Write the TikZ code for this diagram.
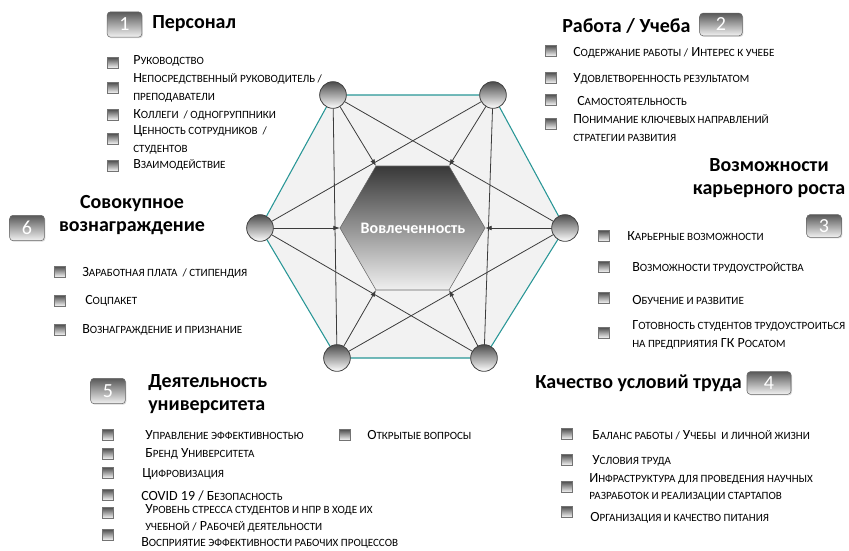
\documentclass[tikz,border=0pt]{standalone}
\usepackage{fontspec}
\setmainfont{Carlito}
\usetikzlibrary{arrows.meta,shadows}

\definecolor{hexedge}{RGB}{40,150,150}
\definecolor{linkgray}{RGB}{60,60,60}

% small caps by hand
\newcommand\sm[1]{{\fontsize{8.3}{13}\selectfont\MakeUppercase{#1}}}

\tikzset{
  joint/.style={circle,draw=black!75,line width=0.6pt,minimum size=20pt,inner sep=0pt,
    top color=black!70,bottom color=white},
  numbox/.style={draw=black!60,rounded corners=2.5pt,top color=black!65,bottom color=black!5,
    text=white,minimum width=26pt,minimum height=19pt,inner sep=0pt,
    font=\fontsize{15}{15}\selectfont,
    drop shadow={opacity=0.3,shadow xshift=0.8pt,shadow yshift=-0.8pt}},
  bullet/.style={draw=black!55,top color=black!70,bottom color=white,minimum size=8.5pt,
    inner sep=0pt,drop shadow={opacity=0.25,shadow xshift=0.6pt,shadow yshift=-0.6pt}},
  heading/.style={font=\bfseries\fontsize{15}{17.25}\selectfont,inner sep=0pt},
  entry/.style={anchor=west,align=left,inner sep=0pt,font=\fontsize{10.5}{13}\selectfont},
  link/.style={draw=linkgray,line width=0.6pt},
}

\begin{document}
\begin{tikzpicture}[x=0.75pt,y=-0.75pt]
  \useasboundingbox (0,0) rectangle (849,550);
  % outer corners
  \coordinate (c1) at (333,95);
  \coordinate (c2) at (493,95);
  \coordinate (c3) at (565,228);
  \coordinate (c4) at (484,358);
  \coordinate (c5) at (337,358);
  \coordinate (c6) at (260,228);
  % inner corners
  \coordinate (q1) at (376,166);
  \coordinate (q2) at (449,166);
  \coordinate (q3) at (485,228);
  \coordinate (q4) at (449,290);
  \coordinate (q5) at (376,290);
  \coordinate (q6) at (340,228);

  \filldraw [fill=black!5,draw=hexedge,line width=0.8pt]
    (c1) -- (c2) -- (c3) -- (c4) -- (c5) -- (c6) -- cycle;
  \foreach \a/\b in {1/3,3/5,5/1,2/4,4/6,6/2}
    \draw [link] (c\a) -- (c\b);
  \shade [top color=black!78,bottom color=black!6,draw=black!60]
    (q1) -- (q2) -- (q3) -- (q4) -- (q5) -- (q6) -- cycle;
  \foreach \i in {1,...,6}
    \draw [link,-{Latex[length=5pt,width=3.5pt]}] (c\i) -- (q\i);
  \node [text=white,font=\bfseries\fontsize{12}{12}\selectfont] (core) at (413,228) {Вовлеченность};
  \foreach \i in {1,...,6}
    \node [joint] (p\i) at (c\i) {};

  % numbers
  \node [numbox] (n1) at (124.5,24.5) {1};
  \node [numbox,minimum width=32pt,minimum height=17pt] (n2) at (721,24.5) {2};
  \node [numbox,minimum height=17pt] (n3) at (824,226) {3};
  \node [numbox,minimum width=33pt,minimum height=17pt] (n4) at (769,383) {4};
  \node [numbox] (n5) at (108,391) {5};
  \node [numbox] (n6) at (27,228) {6};

  % headings
  \node [heading,anchor=west] (h1) at (152,24) {Персонал};
  \node [heading,anchor=west] (h2) at (562,26) {Работа / Учеба};
  \node [heading,align=center] (h3) at (769,178) {Возможности\\карьерного роста};
  \node [heading,anchor=west] (h4) at (535,383) {Качество условий труда};
  \node [heading,anchor=west,align=left] (h5) at (148,394) {Деятельность\\университета};
  \node [heading,align=center] (h6) at (132,215) {Совокупное\\вознаграждение};

  % 1
  \node [bullet] (b11) at (113,63) {};
  \node [entry] (t11) at (133,61) {Р\sm{уководство}};
  \node [bullet] (b12) at (113,88) {};
  \node [entry] (t12) at (133,88) {Н\sm{епосредственный руководитель /}\\\sm{преподаватели}};
  \node [bullet] (b13) at (113,115) {};
  \node [entry] (t13) at (133,115) {К\sm{оллеги\ \ / одногруппники}};
  \node [bullet] (b14) at (113,139) {};
  \node [entry] (t14) at (133,140) {Ц\sm{енность сотрудников\ \ /}\\\sm{студентов}};
  \node [bullet] (b15) at (113,166) {};
  \node [entry] (t15) at (133,165) {В\sm{заимодействие}};

  % 2
  \node [bullet] (b21) at (551,51) {};
  \node [entry] (t21) at (573,53) {С\sm{одержание работы /} И\sm{нтерес к учебе}};
  \node [bullet] (b22) at (551,78) {};
  \node [entry] (t22) at (573,79) {У\sm{довлетворенность результатом}};
  \node [bullet] (b23) at (551,100) {};
  \node [entry] (t23) at (577,101) {С\sm{амостоятельность}};
  \node [bullet] (b24) at (551,124) {};
  \node [entry] (t24) at (573,128) {П\sm{онимание ключевых направлений}\\\sm{стратегии развития}};

  % 3
  \node [bullet] (b31) at (604,236) {};
  \node [entry] (t31) at (627,236) {К\sm{арьерные возможности}};
  \node [bullet] (b32) at (604,267) {};
  \node [entry] (t32) at (632,268) {В\sm{озможности трудоустройства}};
  \node [bullet] (b33) at (604,298) {};
  \node [entry] (t33) at (632,300) {О\sm{бучение и развитие}};
  \node [bullet] (b34) at (604,333) {};
  \node [entry] (t34) at (632,335) {Г\sm{отовность студентов трудоустроиться}\\\sm{на предприятия} ГК Р\sm{осатом}};

  % 4
  \node [bullet] (b41) at (567,434) {};
  \node [entry] (t41) at (592,435) {Б\sm{аланс работы /} У\sm{чебы\ \ и личной жизни}};
  \node [bullet] (b42) at (567,460) {};
  \node [entry] (t42) at (592,461) {У\sm{словия труда}};
  \node [bullet] (b43) at (567,487) {};
  \node [entry] (t43) at (589,487.5) {И\sm{нфраструктура для проведения научных}\\\sm{разработок и реализации стартапов}};
  \node [bullet] (b44) at (567,512) {};
  \node [entry] (t44) at (590,518) {О\sm{рганизация и качество питания}};

  % 5
  \node [bullet] (b51) at (108,435) {};
  \node [entry] (t51) at (145,435) {У\sm{правление эффективностью}};
  \node [bullet] (b52) at (108,454) {};
  \node [entry] (t52) at (145,454) {Б\sm{ренд} У\sm{ниверситета}};
  \node [bullet] (b53) at (108,473) {};
  \node [entry] (t53) at (142,474) {Ц\sm{ифровизация}};
  \node [bullet] (b54) at (108,495) {};
  \node [entry] (t54) at (141,496) {COVID 19 / Б\sm{езопасность}};
  \node [bullet] (b55) at (108,513) {};
  \node [entry] (t55) at (145,518.5) {У\sm{ровень стресса студентов и нпр в ходе их}\\\sm{учебной /} Р\sm{абочей деятельности}};
  \node [bullet] (b56) at (108,535) {};
  \node [entry] (t56) at (141,543) {В\sm{осприятие эффективности рабочих процессов}};
  \node [bullet] (b57) at (345,435) {};
  \node [entry] (t57) at (367,435) {О\sm{ткрытые вопросы}};

  % 6
  \node [bullet] (b61) at (60,272) {};
  \node [entry] (t61) at (82,273) {З\sm{аработная плата\ \ / стипендия}};
  \node [bullet] (b62) at (60,301) {};
  \node [entry] (t62) at (85,301) {С\sm{оцпакет}};
  \node [bullet] (b63) at (60,330) {};
  \node [entry] (t63) at (82,330) {В\sm{ознаграждение и признание}};
\end{tikzpicture}
\end{document}
